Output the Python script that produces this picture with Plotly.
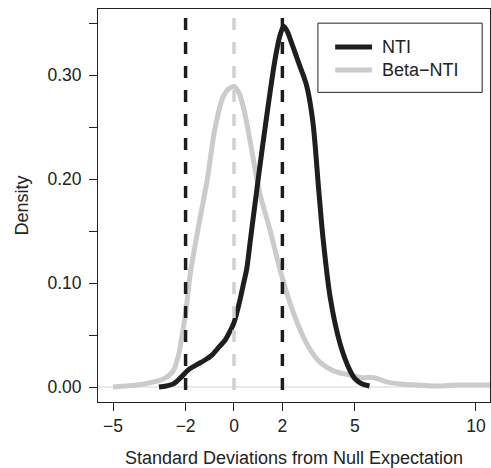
import plotly.graph_objects as go

# ---- data ----
nti_x = [-3.1, -2.8, -2.5, -2.2, -2.0, -1.8, -1.5, -1.2, -0.9, -0.6, -0.37, -0.2, 0.0, 0.1, 0.25,
         0.4, 0.53, 0.66, 0.78, 1.16, 1.69, 1.9, 2.05, 2.2, 2.44, 2.7, 3.0, 3.26, 3.5, 3.68,
         3.97, 4.38, 4.79, 5.0, 5.3, 5.6]
nti_y = [0.000, 0.001, 0.003, 0.009, 0.014, 0.018, 0.022, 0.026, 0.031, 0.039, 0.045, 0.052, 0.062, 0.070, 0.084,
         0.100, 0.114, 0.138, 0.160, 0.228, 0.314, 0.338, 0.347, 0.342, 0.327, 0.310, 0.290, 0.255, 0.190, 0.143,
         0.087, 0.042, 0.016, 0.008, 0.003, 0.001]

beta_x = [-5.0, -4.5, -4.0, -3.5, -3.0, -2.7, -2.5, -2.3, -2.2, -2.0, -1.8, -1.5, -1.1, -0.8, -0.45, -0.2,
          0.0, 0.2, 0.4, 0.6, 1.07, 1.49, 1.9, 2.4, 3.0, 3.5, 3.84, 4.3, 4.8, 5.3, 5.8, 6.3, 6.86,
          7.5, 8.4, 9.2, 10.0, 10.7]
beta_y = [0.000, 0.001, 0.002, 0.004, 0.007, 0.011, 0.016, 0.030, 0.042, 0.071, 0.110, 0.150, 0.200, 0.247, 0.279, 0.287,
          0.289, 0.283, 0.268, 0.245, 0.186, 0.151, 0.113, 0.075, 0.042, 0.025, 0.019, 0.014, 0.0115, 0.009, 0.009, 0.005, 0.003,
          0.002, 0.001, 0.002, 0.002, 0.002]

ref_x = [-2, 0, 2]
ref_colors = ["#1e1e1e", "#d0d0d0", "#1e1e1e"]
ref_span = [0.3548, -0.0144]

x_ticks = [-5, -2, 0, 2, 5, 10]
x_tick_labels = ["\u22125", "\u22122", "0", "2", "5", "10"]
y_ticks = [0.00, 0.05, 0.10, 0.15, 0.20, 0.25, 0.30, 0.35]
y_tick_labels = ["0.00", "", "0.10", "", "0.20", "", "0.30", ""]

series_names = ["NTI", "Beta\u2212NTI"]
series_colors = ["#1e1e1e", "#cbcbcb"]

FONT = "Liberation Sans, Arial, Helvetica, sans-serif"
TXT = "#222222"

fig = go.Figure()

fig.add_trace(go.Scatter(x=beta_x, y=beta_y, mode="lines", name=series_names[1],
                         line=dict(color=series_colors[1], width=5, shape="spline", smoothing=0.8),
                         showlegend=False, hoverinfo="skip"))
fig.add_trace(go.Scatter(x=nti_x, y=nti_y, mode="lines", name=series_names[0],
                         line=dict(color=series_colors[0], width=5, shape="spline", smoothing=0.8),
                         showlegend=False, hoverinfo="skip"))

for xv, c in zip(ref_x, ref_colors):
    fig.add_trace(go.Scatter(x=[xv, xv], y=ref_span, mode="lines",
                             line=dict(color=c, width=3.5, dash="12px,12px"),
                             showlegend=False, hoverinfo="skip"))

# horizontal zero line
fig.add_shape(type="line", xref="paper", x0=0, x1=1, yref="y", y0=0, y1=0,
              line=dict(color="#d6d6d6", width=1.2), layer="below")

# legend (drawn manually to match the boxed R legend)
fig.add_shape(type="rect", xref="paper", yref="paper", x0=0.561, x1=0.980, y0=0.788, y1=0.964,
              line=dict(color="#222222", width=1), fillcolor="white")
leg_y = [0.9033, 0.8448]
for name, col, ly in zip(series_names, series_colors, leg_y):
    fig.add_shape(type="line", xref="paper", yref="paper", x0=0.605, x1=0.699, y0=ly, y1=ly,
                  line=dict(color=col, width=5))
    fig.add_annotation(xref="paper", yref="paper", x=0.719, y=ly, text=name, showarrow=False,
                       xanchor="left", yanchor="middle", font=dict(family=FONT, size=18, color=TXT))

fig.update_layout(
    width=491, height=468,
    margin=dict(l=98, r=1, t=9, b=66),
    paper_bgcolor="white", plot_bgcolor="white",
    font=dict(family=FONT, size=18, color=TXT),
    showlegend=False,
)
fig.update_xaxes(
    range=[-5.62, 10.58], tickvals=x_ticks, ticktext=x_tick_labels,
    ticks="outside", ticklen=8, tickwidth=1, tickcolor="#222222",
    showline=True, linecolor="#222222", linewidth=1, mirror=True,
    showgrid=False, zeroline=False, ticklabelstandoff=0, automargin=False,
    tickfont=dict(size=17.5, color=TXT),
    title=dict(text="Standard Deviations from Null Expectation", standoff=16,
               font=dict(size=18, color=TXT)),
)
fig.update_yaxes(
    range=[-0.0144, 0.3635], tickvals=y_ticks, ticktext=y_tick_labels,
    ticks="outside", ticklen=8, tickwidth=1, tickcolor="#222222",
    showline=True, linecolor="#222222", linewidth=1, mirror=True,
    showgrid=False, zeroline=False, ticklabelstandoff=4, automargin=False,
    tickfont=dict(size=17.5, color=TXT),
    title=dict(text="Density", standoff=14, font=dict(size=18, color=TXT)),
)

fig.write_html("out.html", config={"displayModeBar": False},
               post_script="document.body.style.margin='0';document.body.style.padding='0';")
